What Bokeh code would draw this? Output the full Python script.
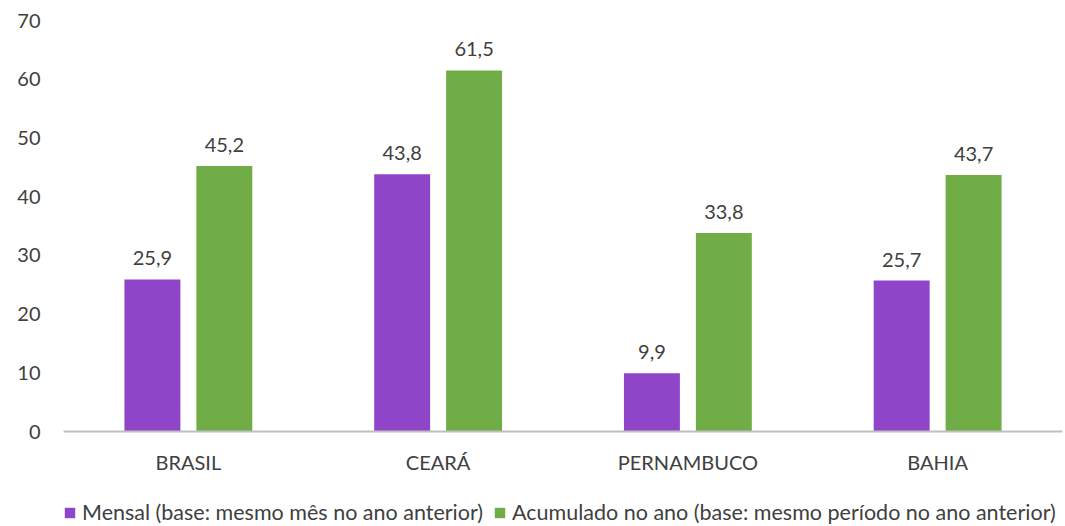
from bokeh.plotting import figure
from bokeh.layouts import column
from bokeh.models import ColumnDataSource, FactorRange, Legend, LegendItem, LabelSet, FixedTicker
from bokeh.core.properties import value
from bokeh.transform import dodge
from bokeh.embed import file_html
from bokeh.resources import INLINE

categories = ["BRASIL", "CEARÁ", "PERNAMBUCO", "BAHIA"]
mensal = [25.9, 43.8, 9.9, 25.7]
acumulado = [45.2, 61.5, 33.8, 43.7]
series_names = ["Mensal (base: mesmo mês no ano anterior)",
                "Acumulado no ano (base: mesmo período no ano anterior)"]
y_ticks = [0, 10, 20, 30, 40, 50, 60, 70]

FONT = "Lato"
PURPLE = "#8E45C8"
GREEN = "#70AD47"
TXT = "#404040"

src = ColumnDataSource(dict(
    cat=categories,
    mensal=mensal,
    acum=acumulado,
    mensal_lbl=[f"{v:.1f}".replace(".", ",") for v in mensal],
    acum_lbl=[f"{v:.1f}".replace(".", ",") for v in acumulado],
))

p = figure(width=1065, height=486, x_range=FactorRange(*categories), y_range=(0, 70),
           output_backend="svg", toolbar_location=None,
           min_border_left=63, min_border_right=3, min_border_top=20, min_border_bottom=55)

r1 = p.vbar(x=dodge("cat", -0.144, range=p.x_range), top="mensal", width=0.224, source=src,
            fill_color=PURPLE, line_color=None)
r2 = p.vbar(x=dodge("cat", 0.144, range=p.x_range), top="acum", width=0.224, source=src,
            fill_color=GREEN, line_color=None)

for col, lbl, off in [("mensal", "mensal_lbl", -0.144), ("acum", "acum_lbl", 0.144)]:
    ls = LabelSet(x=dodge("cat", off, range=p.x_range), y=col, text=lbl, source=src,
                  text_align="center", text_baseline="bottom", y_offset=14,
                  text_font=value(FONT), text_font_size=value("20px"), text_color=value(TXT))
    p.add_layout(ls)

p.xgrid.visible = False
p.ygrid.visible = False
p.outline_line_color = None

p.yaxis.ticker = FixedTicker(ticks=y_ticks)
p.yaxis.axis_line_color = None
p.yaxis.major_tick_line_color = None
p.yaxis.minor_tick_line_color = None
p.yaxis.major_label_standoff = 17
p.yaxis.major_label_text_font = FONT
p.yaxis.major_label_text_font_size = "20px"
p.yaxis.major_label_text_color = TXT

p.xaxis.axis_line_color = "#BFBFBF"
p.xaxis.axis_line_width = 2
p.xaxis.major_tick_line_color = None
p.xaxis.minor_tick_line_color = None
p.xaxis.major_label_standoff = 12
p.xaxis.major_label_text_font = FONT
p.xaxis.major_label_text_font_size = "20px"
p.xaxis.major_label_text_color = TXT

# legend strip (separate small plot below the chart)
p2 = figure(width=1065, height=40, x_range=(0, 1), y_range=(0, 1),
            output_backend="svg", toolbar_location=None,
            min_border=0)
p2.axis.visible = False
p2.grid.visible = False
p2.outline_line_color = None
d1 = p2.vbar(x=[0.5], top=[0.5], width=0.1, fill_color=PURPLE, line_color=None, visible=False)
d2 = p2.vbar(x=[0.5], top=[0.5], width=0.1, fill_color=GREEN, line_color=None, visible=False)
legend = Legend(items=[LegendItem(label=series_names[0], renderers=[d1]),
                       LegendItem(label=series_names[1], renderers=[d2])],
                orientation="horizontal", location=(0, 1),
                label_text_font=FONT, label_text_font_size="21.5px", label_text_color=TXT,
                glyph_width=13, glyph_height=13, label_standoff=6, spacing=10,
                padding=0, margin=0, border_line_color=None, background_fill_alpha=0)
p2.add_layout(legend, "center")

open("out.html", "w").write(file_html(column(p, p2, spacing=0), INLINE))
